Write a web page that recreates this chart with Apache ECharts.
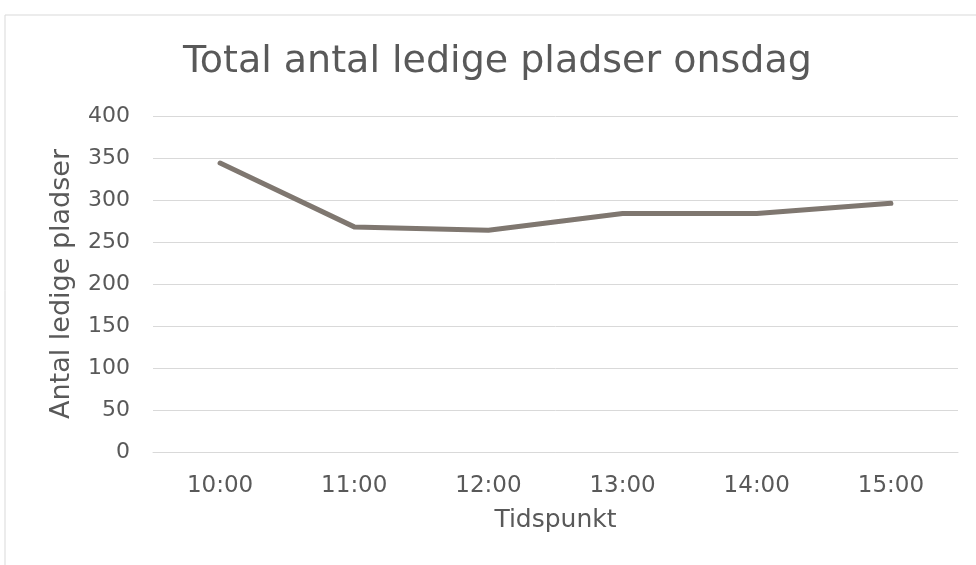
<!DOCTYPE html>
<html>
<head>
<meta charset="utf-8">
<script src="https://cdn.jsdelivr.net/npm/echarts@6/dist/echarts.min.js"></script>
<style>
    html, body { margin: 0; padding: 0; background: #fff; }
    #chart { width: 976px; height: 565px; }
</style>
</head>
<body>
<div id="chart"></div>
<script>
// data
const categories = ['10:00', '11:00', '12:00', '13:00', '14:00', '15:00']
const ledigePladser = [344, 268, 264, 284, 284, 296]

const textColor = '#595959'
const font = 'DejaVu Sans'

const chart = echarts.init(document.getElementById('chart'))
const options = {
    backgroundColor: '#fff',
    animation: false,
    graphic: [
        {
            type: 'rect',
            shape: { x: 5, y: 15, width: 1000, height: 600 },
            style: { fill: 'none', stroke: '#d9d9d9', lineWidth: 1 },
            silent: true
        }
    ],
    title: {
        text: 'Total antal ledige pladser onsdag',
        left: 178,
        top: 38,
        textStyle: {
            fontFamily: font,
            fontSize: 38,
            fontWeight: 'normal',
            color: textColor
        }
    },
    grid: {
        left: 153,
        right: 18,
        top: 116,
        bottom: 113
    },
    xAxis: {
        type: 'category',
        data: categories,
        boundaryGap: true,
        name: 'Tidspunkt',
        nameLocation: 'middle',
        nameGap: 56,
        nameTextStyle: { fontFamily: font, fontSize: 25, color: textColor },
        axisLine: { show: true, lineStyle: { color: '#d9d9d9', width: 1 } },
        axisTick: { show: false },
        axisLabel: { fontFamily: font, fontSize: 23, color: textColor, margin: 23 }
    },
    yAxis: {
        type: 'value',
        min: 0,
        max: 400,
        interval: 50,
        name: 'Antal ledige pladser',
        nameLocation: 'middle',
        nameGap: 78,
        nameTextStyle: { fontFamily: font, fontSize: 27, color: textColor },
        axisLine: { show: false },
        axisTick: { show: false },
        axisLabel: { fontFamily: font, fontSize: 22, color: textColor, margin: 23 },
        splitLine: { lineStyle: { color: '#d9d9d9', width: 1 } }
    },
    series: [
        {
            name: 'Ledige pladser',
            type: 'line',
            data: ledigePladser,
            showSymbol: false,
            lineStyle: { color: '#7f7770', width: 5, cap: 'round', join: 'round' },
            itemStyle: { color: '#7f7770' }
        }
    ]
}
chart.setOption(options)
</script>
</body>
</html>
